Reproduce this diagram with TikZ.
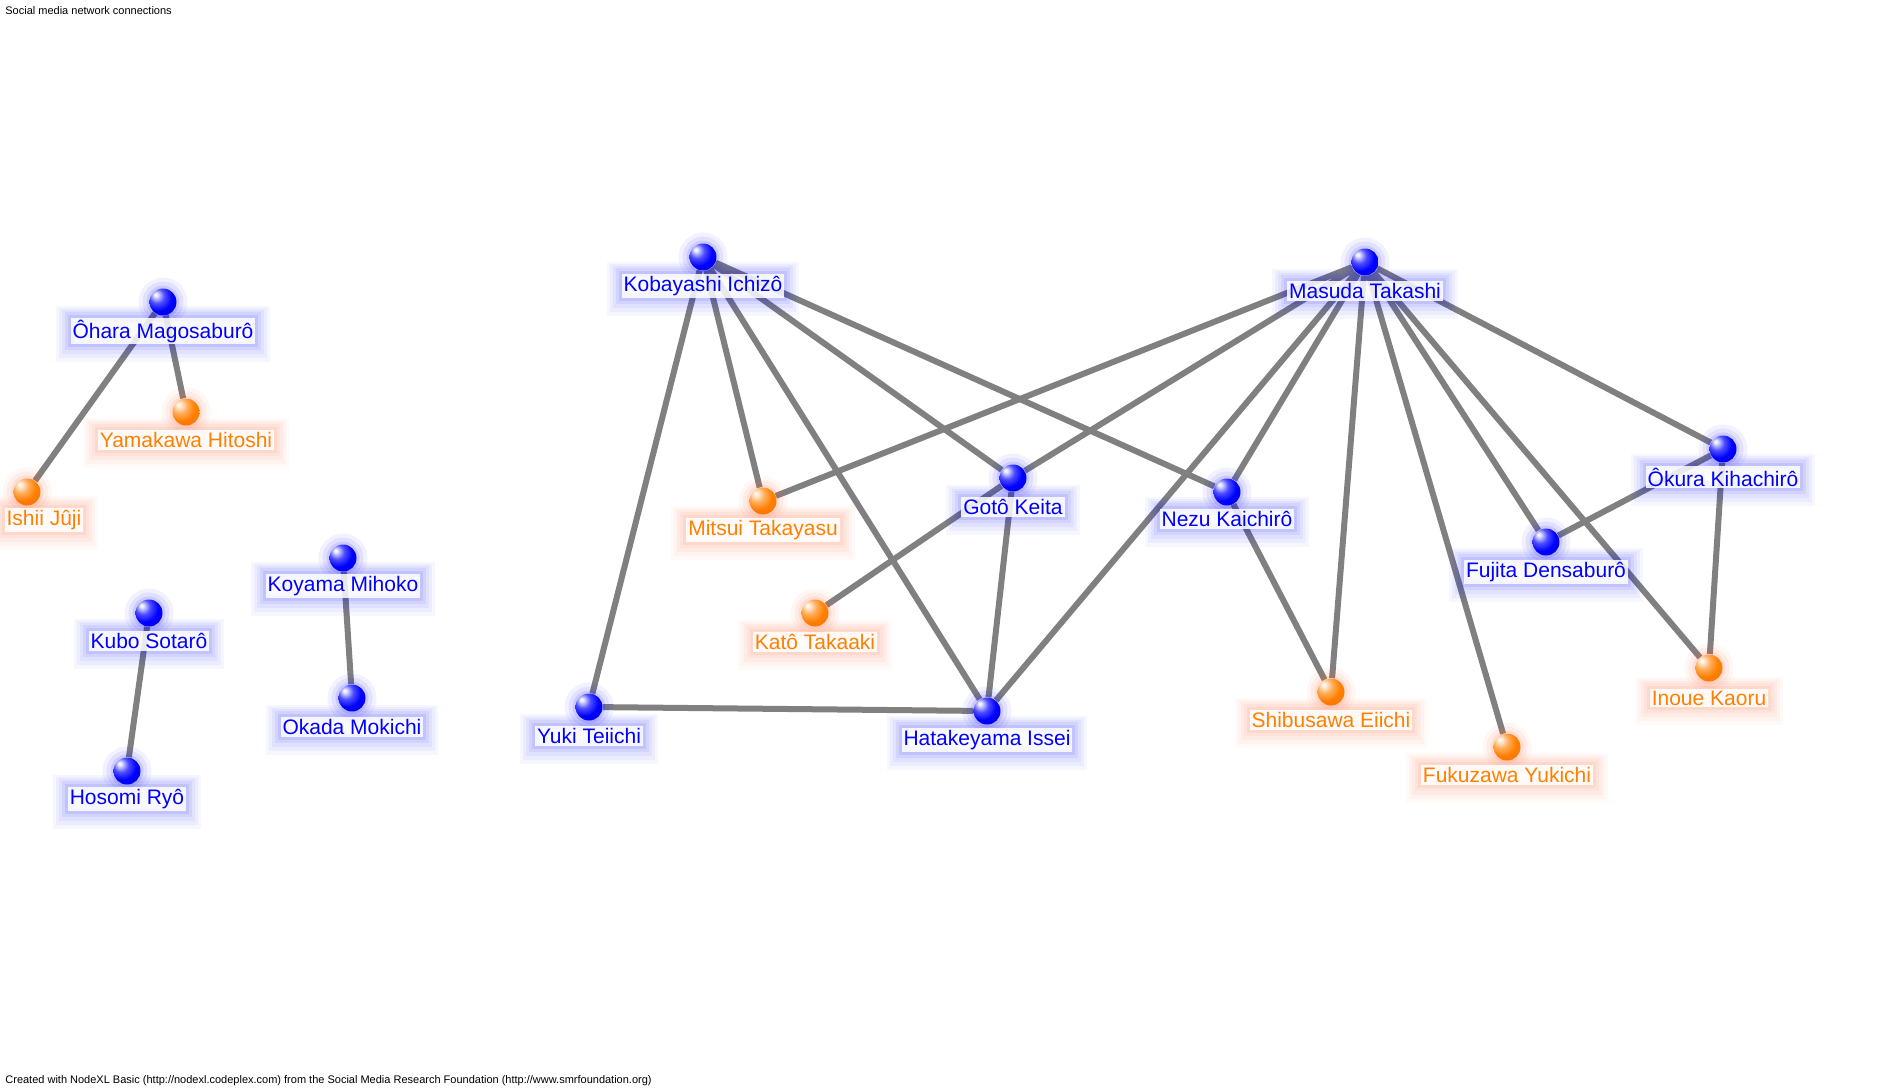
\documentclass[tikz,border=0pt]{standalone}
\usepackage{fontspec}
\setmainfont{Liberation Sans}
\usetikzlibrary{backgrounds}

\definecolor{nxblue}{RGB}{0,0,255}
\definecolor{nxorange}{RGB}{255,128,0}
\definecolor{nxglow}{RGB}{255,90,40}
\definecolor{nxgray}{RGB}{128,128,128}

\pgfdeclareradialshading{blueball}{\pgfqpoint{-14bp}{14bp}}{color(0bp)=(white); color(3bp)=(nxblue!8!white);
  color(14bp)=(nxblue!70!white); color(26bp)=(nxblue); color(52bp)=(nxblue!88!black); color(75bp)=(nxblue!80!black)}
\pgfdeclareradialshading{orangeball}{\pgfqpoint{-14bp}{14bp}}{color(0bp)=(white); color(3bp)=(nxorange!10!white);
  color(14bp)=(nxorange!65!white); color(26bp)=(nxorange); color(52bp)=(nxorange!92!black); color(75bp)=(nxorange!85!black)}

\tikzset{
  glow/.style={preaction={draw=#1,draw opacity=.035,line width=15pt,rounded corners=7pt,transform canvas={yshift=-1.5pt}},
               preaction={draw=#1,draw opacity=.04,line width=12pt,rounded corners=6pt,transform canvas={yshift=-1pt}},
               preaction={draw=#1,draw opacity=.05,line width=9pt,rounded corners=4pt,transform canvas={yshift=-.5pt}},
               preaction={draw=#1,draw opacity=.06,line width=6pt,rounded corners=3pt},
               preaction={draw=#1,draw opacity=.08,line width=3pt,rounded corners=1pt}},
  ballglow/.style={preaction={draw=#1,draw opacity=.05,line width=11pt},
                   preaction={draw=#1,draw opacity=.07,line width=7pt},
                   preaction={draw=#1,draw opacity=.1,line width=3pt}},
  bluev/.style={circle,inner sep=0pt,minimum size=13.5pt,shading=blueball,ballglow=nxblue},
  orangev/.style={circle,inner sep=0pt,minimum size=13.5pt,shading=orangeball,ballglow=nxglow},
  bluelbl/.style={fill=white,fill opacity=.85,text opacity=1,text=nxblue,inner sep=1pt,glow=nxblue},
  orangelbl/.style={fill=white,fill opacity=.85,text opacity=1,text=nxorange,inner sep=1pt,glow=nxglow},
  link/.style={draw=nxgray,line width=3pt},
  small/.style={anchor=west,inner sep=0pt,font=\fontsize{5.5}{6.5}\selectfont}
}

\begin{document}
\begin{tikzpicture}[x=0.5pt, y=-0.5pt, font=\fontsize{10.5}{12}\selectfont]
	\useasboundingbox (0,0) rectangle (1892,1092);
	\node[small] (title) at (5,11) {Social media network connections};
	\node[small] (credit) at (5,1081) {Created with NodeXL Basic (http://nodexl.codeplex.com) from the Social Media Research Foundation (http://www.smrfoundation.org)};

	% left groups
	\node[bluev] (ohara) at (163,302) {};
	\node[bluelbl] (oharaL) at (163,331) {Ôhara Magosaburô};
	\node[orangev] (yamakawa) at (186,412) {};
	\node[orangelbl] (yamakawaL) at (186,440) {Yamakawa Hitoshi};
	\node[orangev] (ishii) at (27,492) {};
	\node[orangelbl] (ishiiL) at (44,520) {Ishii Jûji};
	\node[bluev] (koyama) at (343,558) {};
	\node[bluelbl] (koyamaL) at (343,586) {Koyama Mihoko};
	\node[bluev] (okada) at (352,698) {};
	\node[bluelbl] (okadaL) at (352,727) {Okada Mokichi};
	\node[bluev] (kubo) at (149,613) {};
	\node[bluelbl] (kuboL) at (149,641) {Kubo Sotarô};
	\node[bluev] (hosomi) at (127,771) {};
	\node[bluelbl] (hosomiL) at (127,799) {Hosomi Ryô};

	% main group
	\node[bluev] (kobayashi) at (703,257) {};
	\node[bluelbl] (kobayashiL) at (703,286) {Kobayashi Ichizô};
	\node[orangev] (mitsui) at (763,501) {};
	\node[orangelbl] (mitsuiL) at (763,530) {Mitsui Takayasu};
	\node[bluev] (goto) at (1013,478) {};
	\node[bluelbl] (gotoL) at (1013,507) {Gotô Keita};
	\node[orangev] (kato) at (815,613) {};
	\node[orangelbl] (katoL) at (815,642) {Katô Takaaki};
	\node[bluev] (yuki) at (589,707) {};
	\node[bluelbl] (yukiL) at (589,736) {Yuki Teiichi};
	\node[bluev] (hatakeyama) at (987,711) {};
	\node[bluelbl] (hatakeyamaL) at (987,740) {Hatakeyama Issei};
	\node[bluev] (masuda) at (1365,262) {};
	\node[bluelbl] (masudaL) at (1365,291) {Masuda Takashi};
	\node[bluev] (nezu) at (1227,492) {};
	\node[bluelbl] (nezuL) at (1227,519) {Nezu Kaichirô};
	\node[orangev] (shibusawa) at (1331,692) {};
	\node[orangelbl] (shibusawaL) at (1331,720) {Shibusawa Eiichi};
	\node[orangev] (fukuzawa) at (1507,747) {};
	\node[orangelbl] (fukuzawaL) at (1507,775) {Fukuzawa Yukichi};
	\node[bluev] (fujita) at (1546,542) {};
	\node[bluelbl] (fujitaL) at (1546,572) {Fujita Densaburô};
	\node[bluev] (okura) at (1723,449) {};
	\node[bluelbl] (okuraL) at (1723,477) {Ôkura Kihachirô};
	\node[orangev] (inoue) at (1709,668) {};
	\node[orangelbl] (inoueL) at (1709,698) {Inoue Kaoru};

	\begin{scope}[on background layer]
	\draw[link] (ohara) -- (ishii) (ohara) -- (yamakawa);
	\draw[link] (kubo) -- (hosomi) (koyama) -- (okada);
	\draw[link] (kobayashi) -- (yuki) (kobayashi) -- (mitsui) (kobayashi) -- (hatakeyama)
	  (kobayashi) -- (goto) (kobayashi) -- (nezu);
	\draw[link] (masuda) -- (mitsui) (masuda) -- (goto) (masuda) -- (hatakeyama)
	  (masuda) -- (nezu) (masuda) -- (shibusawa) (masuda) -- (fukuzawa)
	  (masuda) -- (fujita) (masuda) -- (inoue) (masuda) -- (okura);
	\draw[link] (goto) -- (kato) (goto) -- (hatakeyama) (yuki) -- (hatakeyama);
	\draw[link] (nezu) -- (shibusawa) (okura) -- (fujita) (okura) -- (inoue);
	\end{scope}
\end{tikzpicture}
\end{document}
